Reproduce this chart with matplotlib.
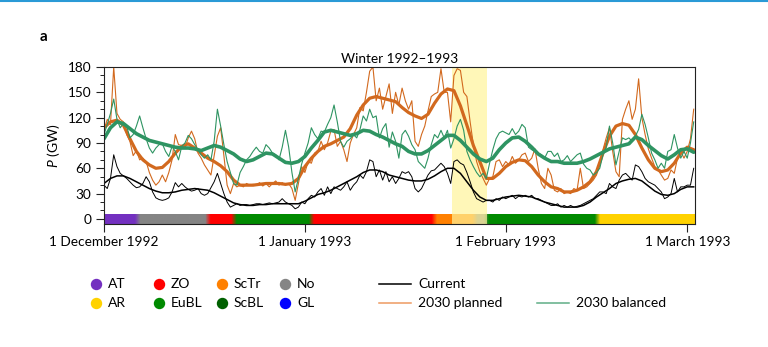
import numpy as np
import matplotlib
matplotlib.use("Agg")
import matplotlib.pyplot as plt
from matplotlib.lines import Line2D
from matplotlib.colors import to_rgb

plt.rcParams['font.family'] = ['Lato', 'DejaVu Sans']
plt.rcParams['mathtext.fontset'] = 'custom'
plt.rcParams['mathtext.rm'] = 'Lato'
plt.rcParams['mathtext.it'] = 'Lato:italic'

# ---------------- data ----------------
step = 0.5  # days between samples of the raw series
current = [40,36,48,76,62,54,51,48,44,40,37,38,42,50,44,32,25,23,22,23,25,32,43,38,42,38,35,33,34,36,30,28,30,37,44,54,42,30,20,14,16,18,16,17,17,16,17,
           18,18,17,18,19,18,19,20,24,20,18,16,12,14,20,18,24,28,26,32,36,28,38,30,38,36,34,38,44,34,40,44,52,48,56,70,68,50,58,46,56,44,50,42,48,56,
           54,56,50,36,32,36,44,52,57,58,62,66,62,54,42,68,70,66,64,55,44,32,24,22,20,22,22,20,24,22,26,24,26,28,24,27,26,28,26,28,24,24,22,20,18,16,
           16,18,14,16,14,16,14,15,16,18,20,22,24,28,32,32,30,42,38,36,46,52,54,50,46,64,62,56,48,44,42,40,36,32,24,26,30,48,32,38,38,40,40,60]
planned = [105,118,112,180,125,118,115,100,92,75,81,70,72,68,55,46,40,44,52,44,55,70,100,88,87,84,96,104,95,78,72,64,58,52,75,98,108,75,40,30,42,38,40,38,42,40,41,
           40,43,39,42,38,42,45,40,43,40,42,36,22,42,62,55,68,66,78,80,92,82,90,104,106,86,92,82,68,90,100,108,132,128,150,175,180,140,155,130,145,160,125,150,135,155,
           140,130,140,92,86,100,110,128,145,148,150,178,150,150,115,170,178,176,150,145,115,88,68,56,48,40,48,50,68,70,62,68,64,74,66,70,76,78,68,72,83,60,42,36,60,52,
           34,32,36,30,32,30,36,34,60,36,38,42,46,52,66,82,96,108,80,56,50,118,130,140,118,130,166,120,100,83,72,62,58,52,46,48,58,54,72,80,72,80,95,130]
balanced = [100,112,125,142,118,108,113,110,96,100,110,122,108,95,84,78,84,88,89,80,74,86,80,70,86,90,99,95,88,82,76,72,76,70,92,130,110,88,68,55,42,40,55,62,70,74,80,
            85,80,78,88,84,78,76,70,85,105,85,55,32,48,65,78,90,108,100,95,104,103,112,120,135,115,92,85,92,95,100,96,106,122,116,130,120,122,96,107,113,85,103,92,72,100,
            105,98,88,82,68,64,60,72,88,100,96,105,96,105,84,95,110,118,105,80,70,62,55,50,54,48,66,82,95,102,104,102,100,107,100,104,112,108,85,82,80,78,76,72,80,80,
            74,78,68,70,75,68,72,76,78,65,60,58,52,55,60,76,85,110,90,64,80,96,94,96,92,98,106,124,112,96,78,70,60,66,60,80,82,100,84,72,80,72,90,115]

# smoothed series, one value per day (day 0 .. 91)
current_smooth = [42,48,51,51,48,44,40,36,33,31,31,32,34,35,36,35,34,31,27,23,19,17,16,
                  16,17,17,18,18,18,18,18,21,25,29,31,34,38,42,46,50,55,58,58,56,52,50,
                  48,46,45,45,47,51,56,60,60,54,44,34,26,22,22,24,26,27,28,27,26,23,20,18,
                  16,14,14,14,16,20,26,31,36,42,45,47,48,45,39,33,29,28,30,35,38,38]
planned_smooth = [108,115,117,111,95,80,70,64,60,61,68,78,86,89,84,78,72,68,63,56,46,40,40,
                  40,41,42,42,42,41,42,48,62,72,80,86,89,93,97,107,123,135,143,145,143,141,139,
                  132,126,122,119,124,137,148,154,152,134,111,87,68,48,48,54,62,67,70,69,62,52,44,38,
                  36,32,32,34,38,44,56,78,98,110,113,111,100,84,70,60,56,58,66,78,85,82]
balanced_smooth = [95,108,115,113,107,101,97,93,91,89,87,85,84,84,83,81,84,87,85,81,77,71,68,
                   70,74,78,77,72,67,66,68,74,84,93,103,105,103,101,99,101,105,104,100,97,93,89,
                   86,80,77,77,81,87,93,99,99,93,85,77,71,68,72,82,90,96,97,92,85,77,72,68,
                   68,66,66,66,68,71,75,79,83,85,87,89,97,94,87,81,75,71,76,82,83,79]

# weather regimes (day boundaries) and highlighted period
regime_bounds = [0, 5.2, 16, 20, 32, 51, 57.3, 59, 76.2, 91.2]
regime_names = ['AT', 'No', 'ZO', 'EuBL', 'ZO', 'ScTr', 'No', 'EuBL', 'AR']
highlight = [53.7, 59.1]

tick_days = [0, 31, 62, 90]
tick_labels = ['1 December 1992', '1 January 1993', '1 February 1993', '1 March 1993']

legend_regimes = ['AT', 'ZO', 'ScTr', 'No', 'AR', 'EuBL', 'ScBL', 'GL']
regime_colors = {'AT': '#7430C0', 'ZO': '#FF0000', 'ScTr': '#FF8000', 'No': '#858585',
                 'AR': '#FFD200', 'EuBL': '#008A00', 'ScBL': '#006000', 'GL': '#0000FF'}
line_labels = ['Current', '2030 planned', '2030 balanced']

c_cur = '#000000'
c_pl = '#D2691E'
c_ba = '#2E9462'

# ---------------- figure ----------------
W, H = 768, 347
fig = plt.figure(figsize=(W/100, H/100), dpi=100)
ax = fig.add_axes([104/W, 1-224/H, (695-104)/W, (224-67)/H])

t = np.arange(len(current)) * step
td = np.arange(len(current_smooth))

xmax = regime_bounds[-1]
ymin = -6

# regime bar
n = 1000
xs = np.linspace(0, xmax, n)
row = np.zeros((n, 3))
for s, e, nm in zip(regime_bounds[:-1], regime_bounds[1:], regime_names):
    row[(xs >= s) & (xs <= e)] = to_rgb(regime_colors[nm])
k = 9
ker = np.ones(k) / k
for c in range(3):
    padded = np.concatenate([np.repeat(row[:1, c], k), row[:, c], np.repeat(row[-1:, c], k)])
    row[:, c] = np.convolve(padded, ker, mode='same')[k:-k]
ax.imshow(row[None, :, :], extent=(0, xmax, ymin, 5), aspect='auto',
          interpolation='bilinear', zorder=1)

ax.axvspan(highlight[0], highlight[1], color='#FFF59A', alpha=0.7, lw=0, zorder=1.5)

ax.plot(t, current, color=c_cur, lw=0.7, zorder=3)
ax.plot(td, current_smooth, color=c_cur, lw=1.1, zorder=3.5)
ax.plot(t, planned, color=c_pl, lw=0.8, zorder=2.5)
ax.plot(td, planned_smooth, color=c_pl, lw=2.3, zorder=2.6, solid_capstyle='round')
ax.plot(t, balanced, color=c_ba, lw=0.8, zorder=2.7)
ax.plot(td, balanced_smooth, color=c_ba, lw=2.6, zorder=2.8, solid_capstyle='round')

ax.set_xlim(0, xmax)
ax.set_ylim(ymin, 180)
ax.set_yticks([0, 30, 60, 90, 120, 150, 180])
ax.set_yticks(np.arange(0, 181, 10), minor=True)
ax.set_xticks(tick_days)
ax.set_xticklabels(tick_labels)
ax.tick_params(axis='both', which='major', direction='out', length=6, width=0.8,
               labelsize=9.8, pad=3, color='#222222')
ax.tick_params(axis='y', which='minor', direction='out', length=3, width=0.7, color='#222222')
for sp in ax.spines.values():
    sp.set_linewidth(0.8)
    sp.set_color('#222222')
    sp.set_zorder(5)

ax.set_ylabel('$P$ (GW)', fontsize=10, labelpad=4)
ax.set_title('Winter 1992\u20131993', fontsize=9.8, pad=3)

fig.text(40/W, 1-37/H, 'a', fontsize=11, fontweight='bold', va='center', ha='left')
fig.add_artist(Line2D([0, 1], [1-1/H, 1-1/H], color='#2A9AD6', lw=1.5, transform=fig.transFigure))

# legend: regimes
col_x = [96, 159, 222, 285]
row_y = [284, 303]
for i, nm in enumerate(legend_regimes):
    cx = col_x[i % 4]
    cy = row_y[i // 4]
    fig.add_artist(Line2D([cx/W], [1-cy/H], marker='o', markersize=7.2, color=regime_colors[nm],
                          lw=0, transform=fig.transFigure))
    fig.text((cx+12)/W, 1-cy/H, nm, fontsize=10, va='center', ha='left')

# legend: lines
line_cols = ['#000000', '#EE9A62', '#5FAE86']
line_pos = [(379, 284), (379, 303), (537, 303)]
for lab, col, (lx, ly) in zip(line_labels, line_cols, line_pos):
    fig.add_artist(Line2D([lx/W, (lx+32)/W], [1-ly/H, 1-ly/H], color=col, lw=1.1,
                          transform=fig.transFigure))
    fig.text((lx+39)/W, 1-ly/H, lab, fontsize=10, va='center', ha='left')

fig.savefig('out.png', dpi=100)
